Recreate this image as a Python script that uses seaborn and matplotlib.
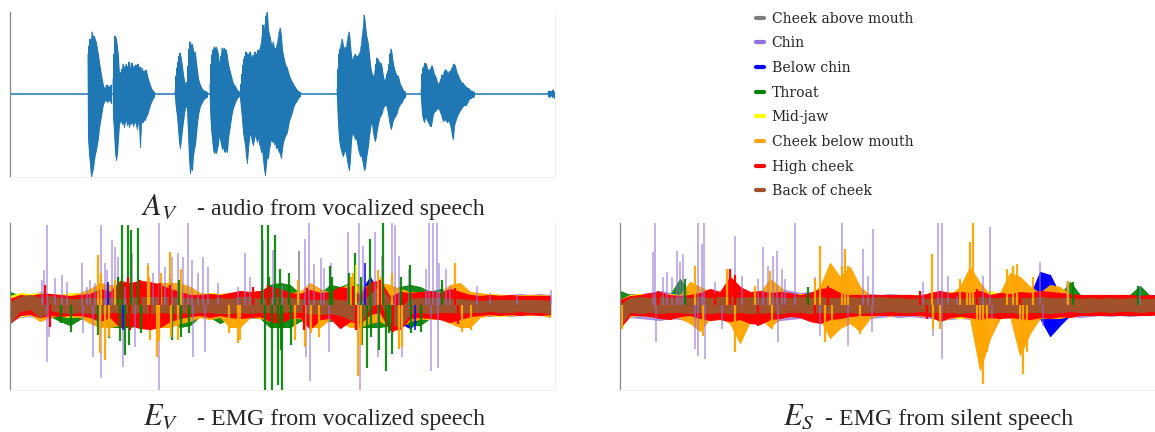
import numpy as np
import matplotlib
matplotlib.use("Agg")
import matplotlib.pyplot as plt
from matplotlib.lines import Line2D
import seaborn as sns

sns.set_theme(style="white")
plt.rcParams['font.family'] = ['Liberation Serif', 'DejaVu Serif']
plt.rcParams['mathtext.fontset'] = 'stix'

# ---------------- channels ----------------
CHANNEL_NAMES = ["Cheek above mouth", "Chin", "Below chin", "Throat", "Mid-jaw",
                 "Cheek below mouth", "High cheek", "Back of cheek"]
CHANNEL_COLORS = ["#808080", "#9370DB", "#0000FF", "#008000", "#FFFF00",
                  "#FFA500", "#FF0000", "#A0522D"]
CHANNEL_ALPHA = [1.0, 0.7, 1.0, 0.9, 1.0, 0.95, 1.0, 1.0]

# ---------------- audio (A_V): bursts of upper / lower envelope, unit spacing -------------
AUDIO_BURST_START = [78, 103, 165, 200, 230, 327, 411, 538]
AUDIO_BURST_UP = [
    [40, 48, 55, 52, 62, 50, 58, 54, 52, 45, 40, 32, 26, 20, 14, 9, 6, 5, 8, 9, 8, 7, 6, 9],
    [15, 40, 58, 55, 48, 38, 20, 22, 18, 25, 30, 24, 27, 30, 24, 28, 32, 25, 27, 31, 24, 28, 22, 29,
     26, 30, 24, 27, 22, 26, 20, 23, 21, 24, 19, 15, 12, 9, 6, 4, 3, 2],
    [3, 18, 26, 32, 38, 41, 35, 28, 20, 14, 10, 9, 12, 28, 45, 52, 48, 50, 44, 40, 42, 32, 24, 16,
     12, 9, 7, 5, 4, 3, 3, 2, 2],
    [10, 30, 39, 44, 47, 45, 47, 44, 40, 30, 32, 38, 46, 43, 46, 44, 44, 38, 30, 26, 22, 18, 14, 11,
     9, 8, 6, 4, 3, 2],
    [3, 10, 20, 29, 35, 38, 42, 40, 36, 40, 42, 38, 35, 39, 36, 42, 40, 38, 44, 42, 46, 50, 58, 69,
     62, 70, 78, 82, 65, 60, 56, 50, 48, 52, 46, 44, 46, 50, 55, 62, 66, 58, 45, 39, 35, 30, 28, 26,
     22, 19, 16, 14, 12, 10, 8, 7, 5, 4, 3, 2, 2],
    [5, 25, 40, 45, 50, 55, 48, 44, 47, 45, 52, 58, 62, 50, 40, 33, 35, 38, 40, 38, 36, 38, 40, 42,
     48, 57, 65, 79, 70, 60, 55, 50, 40, 30, 23, 20, 18, 18, 24, 30, 36, 34, 32, 30, 31, 25, 18, 14,
     13, 16, 20, 23, 30, 40, 45, 38, 30, 26, 22, 20, 18, 18, 14, 10, 8, 6, 4, 3, 2],
    [4, 20, 26, 28, 31, 30, 26, 24, 23, 25, 26, 28, 24, 20, 18, 16, 12, 10, 9, 12, 15, 19, 18, 22,
     24, 24, 22, 20, 22, 23, 23, 26, 28, 30, 28, 24, 20, 19, 16, 14, 12, 11, 11, 9, 8, 7, 6, 6, 5,
     4, 3, 3, 2, 2],
    [2, 3, 1, 3, 2, 4, 1, 2, 3, 2, 1],
]
AUDIO_BURST_LO = [
    [-44, -60, -70, -83, -78, -75, -66, -60, -56, -50, -44, -34, -28, -22, -16, -10, -8, -6, -6, -8,
     -7, -6, -7, -9],
    [-22, -38, -58, -66, -60, -45, -30, -28, -25, -30, -27, -33, -28, -25, -31, -27, -33, -28, -30,
     -26, -32, -29, -27, -31, -35, -28, -30, -53, -30, -27, -28, -25, -26, -22, -21, -18, -14, -11,
     -8, -6, -4, -3],
    [-4, -15, -22, -35, -48, -54, -45, -36, -28, -20, -14, -11, -15, -40, -65, -79, -72, -76, -62,
     -55, -51, -40, -30, -21, -16, -12, -10, -8, -6, -5, -4, -3, -3],
    [-15, -35, -44, -55, -59, -57, -59, -55, -50, -40, -45, -50, -55, -52, -57, -58, -55, -58, -45,
     -38, -31, -24, -18, -14, -11, -8, -6, -4, -3, -2],
    [-4, -14, -25, -38, -45, -51, -62, -69, -55, -45, -38, -42, -48, -51, -45, -40, -44, -48, -41,
     -50, -52, -58, -55, -65, -75, -81, -70, -62, -64, -55, -50, -44, -48, -45, -50, -48, -54, -52,
     -56, -58, -60, -64, -55, -48, -45, -42, -40, -38, -32, -27, -24, -21, -18, -14, -11, -9, -8,
     -6, -4, -3, -2],
    [-6, -30, -45, -52, -56, -60, -62, -58, -55, -60, -66, -72, -76, -65, -48, -38, -40, -42, -45,
     -44, -48, -55, -58, -62, -60, -65, -70, -76, -74, -65, -58, -52, -42, -35, -28, -30, -38, -44,
     -47, -42, -35, -30, -25, -22, -21, -18, -14, -12, -11, -11, -14, -20, -26, -32, -35, -30, -26,
     -24, -22, -21, -18, -14, -12, -10, -9, -8, -5, -4, -3],
    [-5, -20, -25, -28, -24, -23, -26, -28, -30, -32, -32, -26, -20, -18, -17, -16, -15, -14, -15,
     -18, -20, -24, -27, -26, -25, -27, -28, -26, -28, -30, -35, -42, -45, -32, -28, -25, -22, -20,
     -18, -16, -15, -13, -12, -11, -11, -11, -9, -7, -5, -4, -4, -3, -3, -2],
    [-2, -3, -2, -1, -3, -2, -4, -2, -1, -3, -2],
]

# ---------------- EMG bands: upper/lower extent every 10 samples (x = 0..540) -------------
# ----- E_V (vocalized) -----
EV_UP = [
    # gray
    [8, 9, 8, 9, 9, 8, 9, 9, 10, 11, 10, 12, 11, 12, 13, 12, 11, 10, 10, 9, 10, 10,
     10, 11, 10, 10, 12, 11, 10, 10, 11, 12, 10, 11, 12, 11, 13, 10, 11, 12, 11, 10, 11, 10,
     10, 9, 9, 8, 9, 8, 9, 8, 8, 9, 8],
    # purple
    [8, 12, 10, 13, 11, 10, 12, 11, 13, 14, 13, 16, 14, 16, 18, 16, 15, 14, 12, 11, 12, 11,
     12, 13, 12, 11, 14, 13, 12, 12, 16, 14, 13, 14, 16, 18, 16, 18, 14, 18, 13, 12, 13, 12,
     11, 12, 10, 10, 11, 10, 10, 11, 10, 11, 10],
    # blue
    [7, 9, 9, 10, 9, 10, 10, 9, 10, 22, 11, 13, 12, 14, 13, 12, 11, 10, 10, 9, 10, 9,
     10, 10, 9, 10, 11, 10, 9, 10, 10, 11, 10, 10, 11, 12, 28, 10, 12, 10, 11, 10, 12, 11,
     10, 9, 9, 9, 8, 9, 8, 9, 8, 8, 8],
    # green
    [13, 9, 7, 8, 9, 7, 9, 11, 9, 11, 13,
     22, 18, 16, 13, 11, 14, 20, 13, 9, 9, 11,
     9, 9, 11, 13, 20, 22, 20, 11, 9, 11, 20,
     18, 22, 20, 16, 22, 13, 18, 20, 18, 13, 16,
     13, 9, 9, 8, 9, 7, 8, 9, 7, 8, 7],
    # yellow
    [9, 12, 11, 12, 11, 10, 12, 11, 13, 16, 13, 15, 14, 16, 18, 15, 14, 12, 11, 11, 12, 11,
     12, 13, 12, 11, 14, 13, 11, 12, 16, 14, 13, 14, 16, 20, 18, 22, 14, 16, 13, 12, 13, 12,
     12, 12, 10, 10, 11, 10, 9, 10, 9, 10, 9],
    # orange
    [7, 9, 9, 10, 9, 10, 9, 12, 16, 22, 20,
     18, 13, 14, 22, 22, 22, 22, 18, 12, 10, 10,
     10, 12, 10, 12, 16, 13, 12, 13, 22, 16, 12,
     16, 22, 18, 13, 22, 20, 16, 13, 12, 13, 12,
     20, 22, 13, 12, 10, 10, 9, 10, 10, 10, 9],
    # red
    [6, 10, 9, 11, 11, 10, 9, 10, 11, 16, 13, 24, 22, 24, 23, 20, 16, 13, 10, 10, 11, 10,
     12, 14, 13, 14, 18, 16, 12, 11, 15, 12, 13, 18, 16, 10, 23, 24, 8, 13, 12, 13, 14, 12,
     16, 13, 10, 9, 10, 9, 10, 9, 9, 9, 9],
    # brown
    [3, 8, 10, 7, 9, 7, 6, 6, 7, 6, 7, 6, 7, 8, 8, 8, 8, 7, 7, 6, 6, 7,
     6, 8, 8, 6, 7, 8, 7, 6, 5, 5, 6, 5, 4, 3, 10, 20, 4, -3, 6, 7, 7, 7,
     6, 6, 5, 4, 5, 5, 5, 5, 5, 5, 4],
]
EV_LO = [
    [-12, -9, -8, -10, -9, -10, -9, -10, -10, -11, -10, -11, -12, -11, -12, -11, -10, -10, -9,
     -10, -10, -11, -10, -10, -11, -10, -11, -12, -10, -11, -12, -11, -10, -12, -11, -12, -10, -10,
     -12, -13, -11, -10, -11, -10, -11, -10, -9, -9, -8, -9, -8, -9, -8, -8, -12],
    [-16, -12, -11, -13, -12, -11, -13, -12, -14, -16, -14, -18, -16, -18, -20, -18, -16, -14, -13,
     -12, -13, -12, -13, -14, -13, -12, -15, -14, -13, -13, -18, -15, -14, -15, -18, -20, -16, -18,
     -16, -20, -14, -13, -14, -13, -12, -13, -11, -11, -11, -10, -11, -10, -10, -10, -11],
    [-14, -10, -9, -11, -10, -13, -11, -10, -12, -14, -12, -16, -20, -14, -13, -12, -11, -12, -11,
     -10, -11, -10, -11, -10, -11, -10, -12, -11, -10, -11, -14, -12, -11, -12, -13, -14, -16, -12,
     -13, -18, -23, -14, -12, -11, -11, -10, -9, -10, -9, -8, -9, -8, -9, -8, -10],
    [-9, -9, -8, -9, -11, -16, -20, -14, -11, -20, -22,
     -22, -22, -20, -14, -12, -16, -22, -20, -11, -12, -18,
     -13, -11, -12, -13, -22, -22, -22, -16, -14, -13, -16,
     -14, -18, -22, -22, -22, -20, -16, -20, -20, -13, -12,
     -13, -9, -8, -9, -8, -9, -7, -8, -9, -8, -7],
    [-16, -11, -10, -12, -11, -11, -12, -11, -13, -18, -14, -18, -16, -18, -20, -16, -14, -13, -12,
     -11, -12, -11, -13, -12, -12, -11, -15, -14, -12, -13, -18, -15, -13, -15, -18, -22, -16, -14,
     -18, -22, -14, -13, -14, -13, -14, -13, -11, -10, -10, -11, -10, -10, -9, -10, -11],
    [-14, -10, -9, -16, -12, -10, -11, -12, -18, -22, -22,
     -20, -13, -16, -22, -22, -22, -18, -16, -12, -14,
     -12, -22, -22, -12, -13, -16, -14, -13, -13, -22,
     -22, -14, -16, -22, -22, -18, -16, -22, -22, -16,
     -14, -13, -14, -18, -22, -22, -12, -10, -9, -10,
     -9, -10, -9, -12],
    [-18, -10, -9, -12, -10, -11, -10, -10, -12, -16, -12, -22, -20, -23, -24, -22, -16, -13, -11,
     -10, -12, -10, -12, -13, -12, -11, -16, -18, -13, -12, -24, -14, -13, -23, -16, -18, -9, -7,
     -25, -24, -13, -12, -13, -14, -17, -14, -11, -10, -9, -10, -9, -10, -9, -10, -9],
    [-18, -6, -4, -12, -5, -7, -8, -7, -8, -8, -7, -7, -8, -7, -8, -7, -8, -7, -8, -7, -7, -8,
     -8, -7, -8, -7, -7, -8, -6, -7, -8, -9, -8, -10, -14, -18, -2, 4, -18, -22, -8, -7, -8, -7,
     -7, -8, -7, -7, -6, -7, -7, -6, -7, -7, -8],
]
# spikes (position, peak) per channel for E_V
EV_SPIKE_X = [
    [289],
    [32, 34, 37, 37, 39, 45, 52, 57, 72, 73, 77, 80, 83, 85, 91, 91, 95, 97, 102, 105, 108, 113, 115,
     122, 125, 128, 138, 143, 149, 149, 155, 162, 168, 173, 178, 182, 183, 188, 193, 195, 198, 208,
     228, 235, 240, 253, 255, 263, 272, 295, 296, 299, 300, 304, 311, 314, 319, 321, 338, 349, 350,
     353, 360, 365, 368, 372, 382, 385, 389, 392, 399, 416, 419, 421, 423, 427, 428, 429, 436, 440,
     467, 480, 507, 541],
    [98, 113, 355, 405],
    [112, 115, 118, 121, 128, 160, 162, 252, 255, 258, 262, 265, 268, 272, 320, 345, 357, 360, 373,
     376, 382, 400, 432,
     51, 61, 88, 99, 108, 110, 119, 131, 169, 171, 179, 259, 270, 271, 279, 281, 322, 339, 351,
     352, 361, 369, 379, 391, 401, 411],
    [346],
    [88, 90, 95, 105, 138, 140, 147, 160, 168, 228, 230, 285, 288, 295, 343, 348, 368, 382, 389, 392,
     445, 452,
     91, 99, 139, 149, 151, 161, 171, 219, 301, 309, 341, 351, 371, 461],
    [35, 40, 118, 120, 130, 140, 150, 160, 243, 258, 294, 297, 343, 346, 370, 383, 445, 448],
    [],
]
EV_SPIKE_V = [
    [54],
    [25, 35, 80, -57, -32, 27, 30, 23, 42, -28, 18, 25, -52, 22, 80, -73, 42, 35, 65, 58, 48, -62, 18,
     52, -42, 30, 42, 32, 82, -85, 38, 48, 52, 48, 82, 45, -52, 32, 48, -47, 38, 22,
     18, 52, 28, 65, -55, 55, 20, 66, -52, 83, -76, 41, 47, 37, -47, 42, 73, 83, -86,
     59, 66, 73, -52, 49, 83, 80, 49, -52, 36, 36, 83, -66, 83, 83, -63, 42, 36, 19,
     19, 12, 10, 15],
    [23, -25, 42, -25],
    [80, -50, 80, 75, 77, 27, -35, 80, -85, 80, -85, 70, -80, -85, 39, 52, -63, 66, 83,
     -66, -49, 40, 25,
     -18, -27, -30, -33, 28, -36, -40, -28, 25, -32, -28, 28, 36, -45, 32, -40, 28, 32, 28,
     -40, -32, -45, -28, 28, -28, -27],
    [40],
    [50, -48, -55, 25, 40, -35, -52, 53, -35, -38, -35, -35, 25, -42, 32, -71, 35, 32, -44, -42,
     42, -27,
     32, -32, 28, -36, 32, -32, 36, -28, -28, -32, 28, -40, 28, -25],
    [20, -22, 28, -25, 25, -25, 22, 20, 18, 20, -25, 17, 19, -25, 25, -27, 17, -19],
    [],
]

# ----- E_S (silent) -----
ES_UP = [
    [5, 11, 10, 11, 10, 11, 10, 12, 11, 10, 11, 12, 11, 10, 11, 12, 11, 10, 11, 10, 11, 10,
     10, 11, 10, 9, 10, 9, 10, 9, 10, 11, 12, 11, 12, 11, 12, 10, 11, 10, 11, 12, 11, 10,
     10, 9, 10, 9, 8, 9, 8, 9, 8, 8, 9],
    [5, 11, 11, 12, 14, 12, 13, 14, 12, 13, 12, 14, 13, 12, 13, 14, 16, 14, 12, 13, 14, 13,
     14, 13, 12, 11, 10, 11, 10, 10, 9, 10, 11, 12, 11, 12, 13, 11, 12, 10, 11, 14, 13, 12,
     11, 10, 10, 9, 9, 10, 9, 8, 9, 8, 9],
    [5, 9, 9, 9, 10, 9, 10, 10, 9, 9, 10, 10, 9, 10, 9, 10, 9, 9, 10, 10, 9, 10,
     10, 9, 9, 10, 9, 10, 9, 10, 9, 10, 10, 9, 10, 9, 10, 9, 10, 9, 10, 9, 33, 30,
     10, 9, 10, 9, 9, 10, 9, 10, 9, 10, 9],
    [14, 10, 9, 10, 9, 10, 26, 10, 9, 9, 10, 10, 9, 9, 10, 10, 9, 9, 10, 10, 18, 10,
     9, 9, 10, 9, 10, 9, 10, 10, 9, 9, 10, 10, 9, 9, 10, 10, 9, 9, 10, 10, 9, 9,
     10, 23, 10, 9, 9, 10, 9, 10, 19, 9, 10],
    [5, 10, 11, 10, 12, 11, 10, 11, 12, 11, 10, 12, 11, 10, 11, 12, 11, 10, 11, 10, 12, 11,
     11, 10, 9, 10, 9, 10, 9, 10, 9, 10, 12, 13, 12, 11, 12, 14, 11, 12, 11, 10, 11, 10,
     10, 9, 10, 9, 8, 9, 8, 9, 8, 9, 8],
    [0, 8, 9, 9, 10, 9, 10, 23, 18, 13, 12, 28, 18, 10, 12, 26, 18, 9, 9, 10, 18, 42,
     28, 38, 18, 10, 9, 10, 9, 9, 9, 9, 13, 10, 18, 38, 22, 10, 12, 32, 28, 18, 12, 20,
     18, 10, 9, 9, 8, 9, 8, 9, 8, 8, 8],
    [5, 9, 10, 12, 13, 10, 9, 10, 12, 16, 13, 28, 18, 13, 14, 12, 13, 12, 10, 12, 16, 17,
     12, 10, 10, 10, 10, 10, 10, 10, 9, 12, 14, 12, 13, 12, 14, 10, 12, 11, 13, 12, 14, 13,
     12, 11, 10, 10, 10, 10, 10, 10, 9, 10, 9],
    [0, 7, 8, 7, 8, 7, 8, 7, 8, 7, 8, 8, 7, 8, 7, 8, 7, 7, 8, 7, 8, 7,
     7, 8, 7, 7, 8, 7, 7, 6, 7, 6, 7, 7, 6, 7, 8, 7, 7, 8, 7, 7, 8, 7,
     7, 7, 6, 7, 6, 7, 6, 7, 6, 6, 7],
]
ES_LO = [
    [-20, -10, -11, -10, -11, -10, -11, -10, -12, -11, -10, -11, -12, -11, -10, -11, -12, -10, -11,
     -12, -10, -11, -10, -9, -10, -9, -10, -9, -10, -9, -10, -11, -12, -12, -11, -12, -11, -12,
     -11, -10, -11, -12, -11, -10, -10, -9, -10, -9, -10, -9, -8, -9, -10, -9, -8],
    [-22, -12, -13, -14, -15, -13, -14, -15, -17, -14, -13, -15, -14, -13, -15, -17, -15, -14, -13,
     -15, -16, -15, -17, -15, -14, -13, -12, -11, -12, -11, -12, -13, -14, -14, -13, -14, -13, -14,
     -12, -13, -15, -17, -14, -13, -12, -11, -12, -11, -10, -11, -10, -11, -10, -9, -10],
    [-20, -10, -9, -10, -9, -10, -11, -10, -9, -10, -9, -10, -11, -10, -9, -10, -11, -10, -9,
     -10, -11, -10, -11, -10, -9, -10, -9, -10, -9, -10, -9, -10, -11, -10, -9, -10, -12, -10,
     -11, -10, -11, -10, -13, -31, -20, -10, -9, -10, -9, -8, -9, -10, -9, -8, -9],
    [-18, -10, -9, -10, -9, -10, -9, -10, -9, -10, -9, -10, -9, -10, -9, -10, -9, -10, -9,
     -10, -9, -10, -9, -10, -9, -10, -9, -10, -9, -8, -9, -10, -9, -10, -9, -10, -9, -10,
     -9, -10, -9, -10, -9, -10, -9, -10, -9, -8, -9, -8, -9, -8, -9, -8, -9],
    [-20, -11, -10, -11, -12, -11, -10, -12, -11, -10, -11, -12, -11, -12, -11, -10, -11, -10, -11,
     -12, -11, -10, -11, -10, -9, -10, -9, -10, -9, -10, -9, -10, -11, -12, -13, -12, -11, -12,
     -13, -12, -11, -10, -11, -10, -10, -9, -10, -9, -8, -9, -10, -9, -8, -9, -8],
    [-24, -9, -9, -10, -11, -11, -13, -18, -26, -13, -13, -18, -38, -16, -13, -22, -13, -9, -9,
     -11, -13, -33, -23, -18, -26, -13, -9, -11, -9, -9, -11, -9, -16, -13, -11, -13, -65, -33,
     -13, -11, -50, -28, -13, -13, -13, -11, -9, -8, -9, -8, -9, -8, -9, -8, -8],
    [-22, -10, -10, -11, -13, -14, -11, -10, -13, -15, -14, -16, -14, -18, -19, -14, -13, -11, -12,
     -16, -18, -14, -13, -11, -10, -10, -10, -10, -10, -10, -10, -11, -16, -12, -11, -12, -14, -12,
     -13, -12, -13, -14, -12, -13, -11, -12, -10, -10, -10, -10, -10, -10, -10, -10, -9],
    [-20, -7, -8, -7, -8, -7, -7, -8, -7, -8, -7, -8, -7, -8, -8, -7, -8, -7, -7, -8, -7, -8,
     -7, -7, -8, -7, -7, -6, -7, -7, -6, -7, -7, -7, -8, -7, -7, -8, -7, -7, -8, -7, -7, -8,
     -7, -6, -7, -7, -6, -7, -6, -6, -7, -6, -6],
]
ES_SPIKE_X = [
    [],
    [33, 35, 36, 43, 47, 52, 57, 60, 63, 75, 78, 78, 82, 84, 85, 95, 102, 115, 122, 138, 143, 148,
     153, 157, 158, 162, 165, 175, 195, 200, 222, 225, 228, 243, 248, 253, 252, 303, 313, 318, 322,
     322, 328, 337, 363, 370, 372, 420, 423, 447, 520],
    [],
    [65, 188, 453, 518],
    [],
    [2, 75, 83, 107, 110, 115, 135, 150, 152, 195, 200, 205, 212, 222, 225, 228, 240, 312, 313, 320,
     340, 347, 350, 353, 357, 360, 363, 367, 387, 393, 397, 400, 403, 407, 413, 448],
    [38, 95, 110, 115, 138, 195, 208, 300, 307, 357, 400],
    [],
]
ES_SPIKE_V = [
    [],
    [53, 83, -37, 28, 33, 28, 54, 43, 51, -44, 83, -51, 61, 83, -54, 23, -24, 69, 29, 26, 58, 39,
     49, 54, -37, 36, 26, 83, 28, -31, 83, 53, -41, 56, 29, 76, -27, 23, -31, 83, 83,
     -54, 29, 9, 29, 78, -14, 43, -21, 23, 19],
    [],
    [26, 18, 23, 19],
    [],
    [-24, 39, -31, 36, 33, -47, 19, 34, -24, 26, 59, -37, -27, 39, 56, 39, -29, 51, -24, -24,
     26, 26, 63, 83, -41, -61, -79, -47, 36, 39, 41, -47, -69, -47, 28, 24],
    [14, 12, 36, 30, -21, -14, 19, 14, -14, 16, 12],
    [],
]

# ---------------- figure ----------------
W, H = 1155, 432
fig = plt.figure(figsize=(W / 100, H / 100), dpi=100)


def axes_px(x0, y0, x1, y1):
    return fig.add_axes([x0 / W, 1 - y1 / H, (x1 - x0) / W, (y1 - y0) / H])


def style(ax):
    ax.set_xticks([]); ax.set_yticks([])
    ax.set_facecolor("white")
    ax.spines["top"].set_visible(False)
    ax.spines["left"].set_color("#888888"); ax.spines["left"].set_linewidth(0.9)
    for s in ["right", "bottom"]:
        ax.spines[s].set_color("#f0f0f0"); ax.spines[s].set_linewidth(0.8)


# audio
ax_a = axes_px(10, 12, 555, 177)
style(ax_a)
ax_a.axhline(0, color="#1f77b4", lw=1.1)
for start, up, lo in zip(AUDIO_BURST_START, AUDIO_BURST_UP, AUDIO_BURST_LO):
    n = min(len(up), len(lo))
    xs = start + np.arange(n)
    ax_a.fill_between(xs, lo[:n], up[:n], color="#1f77b4", lw=0.6, edgecolor="#1f77b4")
    zx = np.empty(2 * n); zy = np.empty(2 * n)
    zx[0::2] = xs; zx[1::2] = xs + 0.5
    zy[0::2] = up[:n]; zy[1::2] = lo[:n]
    ax_a.plot(zx, zy, color="#1f77b4", lw=0.7)
ax_a.set_xlim(0, 545); ax_a.set_ylim(-83, 82)


def draw_emg(ax, ups, los, sx, sv, xmax):
    for i, col in enumerate(CHANNEL_COLORS):
        alpha = CHANNEL_ALPHA[i]
        m = min(len(sx[i]), len(sv[i]))
        if m:
            xs = np.asarray(sx[i][:m]); vs = np.asarray(sv[i][:m])
            ax.vlines(xs, np.minimum(0, vs), np.maximum(0, vs), color=col,
                      lw=1.6 if i in (3, 5, 6) else 1.1, alpha=alpha)
        n = min(len(ups[i]), len(los[i]))
        grid = np.arange(n) * 10.0
        ax.fill_between(grid, los[i][:n], ups[i][:n], color=col, lw=0.8, edgecolor=col,
                        alpha=alpha)
    ax.set_xlim(0, xmax); ax.set_ylim(-85, 82)


ax_v = axes_px(10, 223, 555, 390)
style(ax_v)
draw_emg(ax_v, EV_UP, EV_LO, EV_SPIKE_X, EV_SPIKE_V, 545)

ax_s = axes_px(620, 223, 1160, 390)
style(ax_s)
draw_emg(ax_s, ES_UP, ES_LO, ES_SPIKE_X, ES_SPIKE_V, 540)

# captions
FS = 17.2
fig.text(178 / W, 1 - 215 / H, r"$A_V$", ha="right", va="baseline", fontsize=22)
fig.text(197 / W, 1 - 215 / H, "- audio from vocalized speech", ha="left", va="baseline", fontsize=FS)
fig.text(178 / W, 1 - 425 / H, r"$E_V$", ha="right", va="baseline", fontsize=22)
fig.text(197 / W, 1 - 425 / H, "- EMG from vocalized speech", ha="left", va="baseline", fontsize=FS)
fig.text(815 / W, 1 - 425 / H, r"$E_S$", ha="right", va="baseline", fontsize=22)
fig.text(825 / W, 1 - 425 / H, "- EMG from silent speech", ha="left", va="baseline", fontsize=FS)

handles = [Line2D([0], [0], color=c, lw=3) for c in CHANNEL_COLORS]
fig.legend(handles, CHANNEL_NAMES, loc="upper left", bbox_to_anchor=(750 / W, 1 - 6 / H),
           frameon=False, handlelength=0.6, handletextpad=0.55, labelspacing=0.76,
           prop={"family": "DejaVu Serif", "size": 10.1}, borderaxespad=0)

fig.savefig("out.png", dpi=100)
